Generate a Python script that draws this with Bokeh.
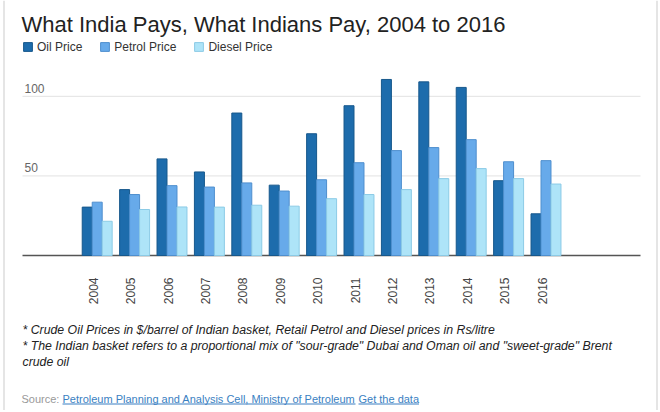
import math
from bokeh.plotting import figure
from bokeh.models import (ColumnDataSource, Label, Legend, LegendItem,
                          Range1d, BoxAnnotation)
from bokeh.core.properties import value
from bokeh.transform import dodge
from bokeh.embed import file_html
from bokeh.resources import INLINE

years = ["2004", "2005", "2006", "2007", "2008", "2009", "2010",
         "2011", "2012", "2013", "2014", "2015", "2016"]
oil_price = [30.4, 41.4, 60.7, 52.5, 89.5, 44.2, 76.5, 94.1, 110.6, 109.1, 105.6, 47.0, 26.2]
petrol_price = [33.5, 38.3, 43.9, 43.0, 45.6, 40.5, 47.6, 58.3, 65.9, 67.8, 72.8, 58.9, 59.6]
diesel_price = [21.5, 28.9, 30.5, 30.4, 31.6, 31.0, 35.7, 38.3, 41.4, 48.3, 54.6, 48.3, 44.9]
y_ticks = [50, 100]

FONT = "Liberation Sans"

# ---- layout constants (window pixels) ----
W, H = 660, 410
K = 191.0 / 120.0        # px per value unit
Y0 = 255.0               # window y of the value 0
PX = 37.4                # px per category step
XC = 96.7                # window x of first category centre
PLOT_L, PLOT_R = 22.0, 640.0


def dx(px):
    return (px - XC) / PX


def dy(py):
    return (Y0 - py) / K


src = ColumnDataSource(data=dict(
    x=list(range(len(years))), year=years,
    oil=oil_price, petrol=petrol_price, diesel=diesel_price))

p = figure(width=W, height=H, output_backend="svg", toolbar_location=None,
           x_range=Range1d(dx(0), dx(W)), y_range=Range1d(dy(H), dy(0)),
           min_border=0, min_border_left=0, min_border_right=0,
           min_border_top=0, min_border_bottom=0)
p.xaxis.visible = False
p.yaxis.visible = False
p.xgrid.grid_line_color = None
p.ygrid.grid_line_color = None
p.outline_line_color = None
p.background_fill_color = "white"
p.border_fill_color = "white"

# gridlines and baseline
p.segment(x0=dx(PLOT_L), x1=dx(PLOT_R), y0=y_ticks, y1=y_ticks,
          line_color="#e2e2e2", line_width=1)
p.segment(x0=dx(PLOT_L), x1=dx(PLOT_R), y0=0, y1=0,
          line_color="#555555", line_width=1.6)

bw = 0.267
r_oil = p.vbar(x=dodge("x", -bw, range=p.x_range), top="oil", width=bw, source=src,
               fill_color="#1d6cac", line_color="#17588c", line_width=1)
r_pet = p.vbar(x=dodge("x", 0, range=p.x_range), top="petrol", width=bw, source=src,
               fill_color="#67aaea", line_color="#4f8fce", line_width=1)
r_die = p.vbar(x=dodge("x", bw, range=p.x_range), top="diesel", width=bw, source=src,
               fill_color="#aee4f8", line_color="#8ccbe6", line_width=1)

# value labels above gridlines
for t in y_ticks:
    p.add_layout(Label(x=24, x_units="screen", y=t, y_units="data", y_offset=8,
                       text=str(t), text_font=FONT, text_font_size="12px",
                       text_color="#666666", text_baseline="alphabetic"))

# category labels (rotated)
p.text(x="x", y=dy(277), text="year", source=src, angle=math.pi / 2,
       x_offset=-4, text_align="right", text_baseline="middle",
       text_font=value(FONT), text_font_size="12px", text_color="#444444")

# title
p.add_layout(Label(x=21, y=H - 23.5, x_units="screen", y_units="screen",
                   text="What India Pays, What Indians Pay, 2004 to 2016",
                   text_font=FONT, text_font_size="22px", text_color="#222222",
                   text_baseline="alphabetic"))

# legend
legend = Legend(items=[LegendItem(label="Oil Price", renderers=[r_oil]),
                       LegendItem(label="Petrol Price", renderers=[r_pet]),
                       LegendItem(label="Diesel Price", renderers=[r_die])],
                orientation="horizontal", location=(22, H - 56.5),
                glyph_width=11, glyph_height=11, label_standoff=4, spacing=17,
                padding=0, margin=0, border_line_color=None,
                background_fill_alpha=0, label_text_font=FONT,
                label_text_font_size="12px", label_text_color="#333333",
                label_height=20)
p.add_layout(legend, "center")

# footnotes
notes = [
    "* Crude Oil Prices in $/barrel of Indian basket, Retail Petrol and Diesel prices in Rs/litre",
    "* The Indian basket refers to a proportional mix of \"sour-grade\" Dubai and Oman oil and \"sweet-grade\" Brent",
    "crude oil",
]
for i, n in enumerate(notes):
    p.add_layout(Label(x=22, y=H - (329 + 16 * i), x_units="screen", y_units="screen",
                       text=n, text_font=FONT, text_font_size="12.3px",
                       text_font_style="italic", text_color="#222222",
                       text_baseline="middle"))

SRC_Y = 398
p.add_layout(Label(x=21, y=H - SRC_Y, x_units="screen", y_units="screen", text="Source:",
                   text_font=FONT, text_font_size="11px", text_color="#999999",
                   text_baseline="middle"))
link_color = "#3a7fc2"
links = [("Petroleum Planning and Analysis Cell, Ministry of Petroleum", 62, 355),
         ("Get the data", 358, 418.5)]
for txt, x0, x1 in links:
    p.add_layout(Label(x=x0, y=H - SRC_Y, x_units="screen", y_units="screen",
                       text=txt, text_font=FONT, text_font_size="11px",
                       text_color=link_color, text_baseline="middle"))
    p.add_layout(BoxAnnotation(left=x0, right=x1, top=H - (SRC_Y + 5), bottom=H - (SRC_Y + 6),
                               left_units="screen", right_units="screen",
                               top_units="screen", bottom_units="screen",
                               fill_color=link_color, fill_alpha=1, line_color=None))

# outer frame lines
for x0 in (3, 656):
    p.add_layout(BoxAnnotation(left=x0, right=x0 + 1, top=H, bottom=0,
                               left_units="screen", right_units="screen",
                               top_units="screen", bottom_units="screen",
                               fill_color="#cccccc", fill_alpha=1, line_color=None))

open("out.html", "w").write(file_html(p, INLINE))
